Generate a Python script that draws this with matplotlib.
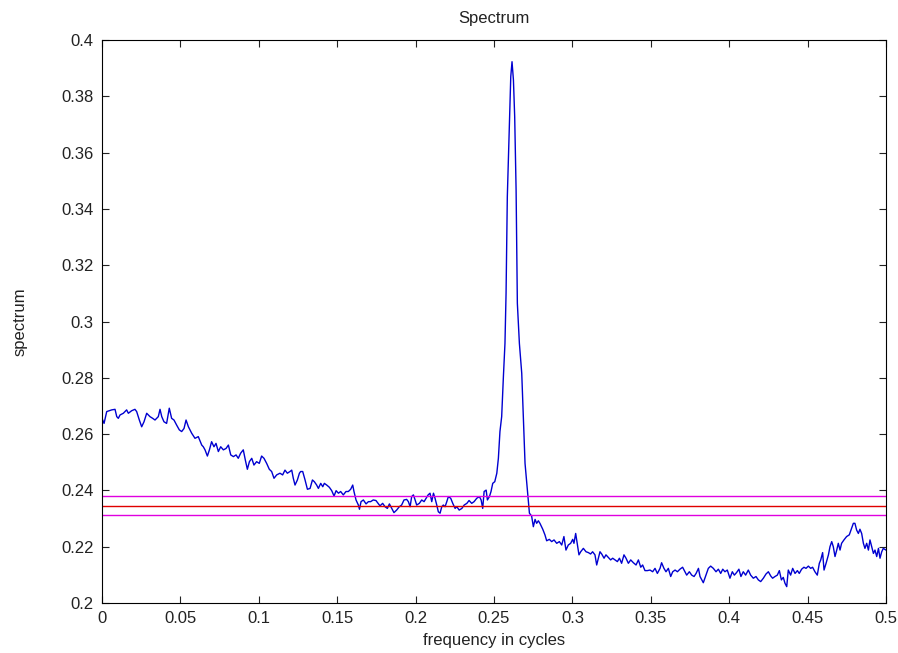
import matplotlib
matplotlib.use("Agg")
import matplotlib.pyplot as plt
from matplotlib.ticker import FormatStrFormatter

# spectrum estimate (frequency in cycles, value)
freq = [
    0.0000, 0.0013, 0.0030, 0.0062, 0.0083, 0.0094, 0.0104, 0.0115, 0.0136, 0.0157,
    0.0168, 0.0189, 0.0210, 0.0221, 0.0238, 0.0253, 0.0268, 0.0285, 0.0306, 0.0323,
    0.0338, 0.0359, 0.0370, 0.0381, 0.0395, 0.0412, 0.0429, 0.0444, 0.0459, 0.0476,
    0.0493, 0.0508, 0.0523, 0.0536, 0.0551, 0.0561, 0.0572, 0.0593, 0.0614, 0.0636,
    0.0646, 0.0657, 0.0672, 0.0685, 0.0699, 0.0714, 0.0727, 0.0742, 0.0757, 0.0774,
    0.0791, 0.0806, 0.0821, 0.0838, 0.0855, 0.0869, 0.0884, 0.0901, 0.0914, 0.0927,
    0.0940, 0.0955, 0.0969, 0.0986, 0.1003, 0.1018, 0.1033, 0.1050, 0.1067, 0.1082,
    0.1097, 0.1114, 0.1135, 0.1152, 0.1167, 0.1182, 0.1199,
    0.1210, 0.1220, 0.1231, 0.1246, 0.1259, 0.1267, 0.1280, 0.1295, 0.1310, 0.1327,
    0.1342, 0.1354, 0.1369, 0.1380, 0.1395, 0.1408, 0.1418, 0.1433, 0.1450, 0.1465,
    0.1480, 0.1493, 0.1508, 0.1522, 0.1539, 0.1556, 0.1571, 0.1586, 0.1599, 0.1607,
    0.1620, 0.1635, 0.1642, 0.1652, 0.1667, 0.1684, 0.1699, 0.1713, 0.1730, 0.1747,
    0.1763, 0.1773, 0.1790, 0.1805, 0.1820, 0.1833, 0.1848, 0.1862, 0.1879, 0.1896,
    0.1911, 0.1926, 0.1943, 0.1954, 0.1965, 0.1975, 0.1986, 0.1997, 0.2007, 0.2024,
    0.2039, 0.2054, 0.2067, 0.2080, 0.2092, 0.2103, 0.2114, 0.2124, 0.2135, 0.2145,
    0.2156, 0.2167, 0.2177, 0.2188, 0.2199, 0.2209, 0.2224, 0.2237, 0.2252, 0.2263,
    0.2278, 0.2295, 0.2310, 0.2327, 0.2341, 0.2358, 0.2373, 0.2390, 0.2407, 0.2418,
    0.2428, 0.2437, 0.2450, 0.2458, 0.2471, 0.2481, 0.2492, 0.2505, 0.2518,
    0.2528, 0.2538, 0.2549, 0.2560, 0.2570, 0.2577, 0.2585, 0.2598, 0.2607, 0.2615,
    0.2624, 0.2632, 0.2641, 0.2649, 0.2662, 0.2677, 0.2687, 0.2698, 0.2709,
    0.2726, 0.2740, 0.2751, 0.2762, 0.2772, 0.2783, 0.2793, 0.2811, 0.2825, 0.2836,
    0.2853, 0.2868, 0.2883, 0.2900, 0.2917, 0.2932, 0.2946, 0.2959, 0.2974, 0.2989,
    0.3002, 0.3010, 0.3021, 0.3032, 0.3042, 0.3053, 0.3070, 0.3087, 0.3102, 0.3116,
    0.3129, 0.3144, 0.3155, 0.3166, 0.3176, 0.3187, 0.3202, 0.3214, 0.3229, 0.3244,
    0.3257, 0.3272, 0.3287, 0.3300, 0.3314, 0.3329, 0.3342, 0.3357, 0.3372, 0.3389,
    0.3406, 0.3421, 0.3436, 0.3448, 0.3463, 0.3478, 0.3495, 0.3512, 0.3527, 0.3542,
    0.3559, 0.3569, 0.3584, 0.3597, 0.3612, 0.3627, 0.3640, 0.3655, 0.3670, 0.3686,
    0.3703, 0.3718, 0.3729, 0.3746, 0.3761, 0.3776, 0.3789, 0.3804,
    0.3814, 0.3835, 0.3852, 0.3867, 0.3882, 0.3899, 0.3916, 0.3931, 0.3946, 0.3959,
    0.3973, 0.3988, 0.4005, 0.4020, 0.4033, 0.4047, 0.4062, 0.4075, 0.4090, 0.4105,
    0.4122, 0.4137, 0.4154, 0.4171, 0.4186, 0.4201, 0.4218, 0.4235, 0.4250, 0.4265,
    0.4277, 0.4292, 0.4307, 0.4320, 0.4333, 0.4345, 0.4356, 0.4367, 0.4377, 0.4392,
    0.4405, 0.4420, 0.4435, 0.4447, 0.4462, 0.4477, 0.4490, 0.4505, 0.4520, 0.4532,
    0.4547, 0.4562, 0.4575, 0.4584, 0.4596, 0.4605, 0.4618, 0.4633, 0.4643, 0.4654,
    0.4664, 0.4675, 0.4686, 0.4696, 0.4707, 0.4717, 0.4732, 0.4749, 0.4766, 0.4781,
    0.4792, 0.4802, 0.4813, 0.4824, 0.4834, 0.4845, 0.4856, 0.4866, 0.4877, 0.4888,
    0.4898, 0.4909, 0.4920, 0.4930, 0.4941, 0.4952, 0.4962, 0.4973, 0.4983, 0.5000,
]
spec = [
    0.2656, 0.2638, 0.2680, 0.2686, 0.2688, 0.2662, 0.2656, 0.2668, 0.2674, 0.2686,
    0.2674, 0.2683, 0.2688, 0.2680, 0.2650, 0.2626, 0.2644, 0.2674, 0.2662, 0.2656,
    0.2650, 0.2662, 0.2688, 0.2662, 0.2644, 0.2638, 0.2692, 0.2656, 0.2650, 0.2632,
    0.2615, 0.2609, 0.2620, 0.2650, 0.2626, 0.2615, 0.2603, 0.2585, 0.2591, 0.2561,
    0.2555, 0.2544, 0.2522, 0.2544, 0.2573, 0.2555, 0.2567, 0.2538, 0.2555, 0.2544,
    0.2549, 0.2561, 0.2526, 0.2520, 0.2526, 0.2514, 0.2532, 0.2544, 0.2508, 0.2475,
    0.2502, 0.2514, 0.2490, 0.2502, 0.2496, 0.2522, 0.2514, 0.2496, 0.2475, 0.2467,
    0.2443, 0.2455, 0.2461, 0.2455, 0.2472, 0.2461, 0.2467,
    0.2472, 0.2443, 0.2419, 0.2437, 0.2461, 0.2467, 0.2467, 0.2437, 0.2404, 0.2407,
    0.2437, 0.2431, 0.2419, 0.2407, 0.2425, 0.2413, 0.2425, 0.2419, 0.2411, 0.2399,
    0.2380, 0.2399, 0.2390, 0.2396, 0.2384, 0.2396, 0.2396, 0.2404, 0.2419, 0.2396,
    0.2366, 0.2348, 0.2333, 0.2360, 0.2366, 0.2352, 0.2360, 0.2360, 0.2366, 0.2364,
    0.2352, 0.2345, 0.2354, 0.2342, 0.2336, 0.2352, 0.2336, 0.2321, 0.2330, 0.2342,
    0.2348, 0.2366, 0.2368, 0.2360, 0.2342, 0.2378, 0.2384, 0.2366, 0.2348, 0.2354,
    0.2366, 0.2360, 0.2372, 0.2384, 0.2390, 0.2360, 0.2390, 0.2372, 0.2348, 0.2324,
    0.2319, 0.2342, 0.2348, 0.2342, 0.2360, 0.2378, 0.2372, 0.2354, 0.2336, 0.2342,
    0.2330, 0.2336, 0.2348, 0.2354, 0.2364, 0.2354, 0.2360, 0.2372, 0.2378, 0.2366,
    0.2336, 0.2396, 0.2401, 0.2366, 0.2378, 0.2396, 0.2425, 0.2431, 0.2461,
    0.2514, 0.2609, 0.2662, 0.2804, 0.2922, 0.3100, 0.3443, 0.3698, 0.3870, 0.3923,
    0.3858, 0.3728, 0.3467, 0.3065, 0.2922, 0.2816, 0.2662, 0.2496, 0.2425,
    0.2319, 0.2309, 0.2271, 0.2297, 0.2283, 0.2292, 0.2283, 0.2262, 0.2242, 0.2221,
    0.2226, 0.2218, 0.2224, 0.2212, 0.2218, 0.2206, 0.2236, 0.2188, 0.2206, 0.2212,
    0.2226, 0.2212, 0.2247, 0.2206, 0.2171, 0.2182, 0.2194, 0.2182, 0.2179, 0.2174,
    0.2182, 0.2171, 0.2135, 0.2159, 0.2182, 0.2174, 0.2159, 0.2171, 0.2162, 0.2153,
    0.2159, 0.2153, 0.2147, 0.2159, 0.2141, 0.2171, 0.2159, 0.2141, 0.2153, 0.2143,
    0.2135, 0.2153, 0.2127, 0.2135, 0.2115, 0.2115, 0.2117, 0.2111, 0.2123, 0.2105,
    0.2123, 0.2143, 0.2123, 0.2111, 0.2123, 0.2094, 0.2111, 0.2117, 0.2111, 0.2120,
    0.2127, 0.2111, 0.2099, 0.2111, 0.2099, 0.2094, 0.2105, 0.2123,
    0.2094, 0.2072, 0.2099, 0.2123, 0.2131, 0.2123, 0.2111, 0.2120, 0.2105, 0.2120,
    0.2111, 0.2117, 0.2088, 0.2111, 0.2099, 0.2108, 0.2120, 0.2094, 0.2111, 0.2099,
    0.2117, 0.2099, 0.2088, 0.2094, 0.2082, 0.2076, 0.2088, 0.2103, 0.2111, 0.2096,
    0.2088, 0.2094, 0.2099, 0.2115, 0.2082, 0.2091, 0.2070, 0.2058, 0.2117, 0.2099,
    0.2123, 0.2105, 0.2115, 0.2105, 0.2120, 0.2127, 0.2123, 0.2131, 0.2123, 0.2127,
    0.2111, 0.2099, 0.2141, 0.2153, 0.2179, 0.2117, 0.2141, 0.2171, 0.2200, 0.2218,
    0.2200, 0.2165, 0.2188, 0.2212, 0.2188, 0.2212, 0.2224, 0.2236, 0.2242, 0.2265,
    0.2283, 0.2283, 0.2259, 0.2247, 0.2262, 0.2247, 0.2212, 0.2194, 0.2212, 0.2188,
    0.2224, 0.2200, 0.2176, 0.2188, 0.2165, 0.2194, 0.2159, 0.2182, 0.2194, 0.2188,
]

# threshold lines: mean level and its band
band_upper = 0.2380
band_mid = 0.2346
band_lower = 0.2314

x_ticks = [0, 0.05, 0.1, 0.15, 0.2, 0.25, 0.3, 0.35, 0.4, 0.45, 0.5]
y_ticks = [0.2, 0.22, 0.24, 0.26, 0.28, 0.3, 0.32, 0.34, 0.36, 0.38, 0.4]

plt.rcParams["font.family"] = ["Liberation Sans", "DejaVu Sans"]
plt.rcParams["font.size"] = 12

fig = plt.figure(figsize=(8.98, 6.53), dpi=100)
ax = fig.add_axes([0.1136, 0.0766, 0.8730, 0.8621])

ax.plot(freq, spec, color="#0000d0", linewidth=1.0)
ax.axhline(band_upper, color="#e000e0", linewidth=1.0)
ax.axhline(band_mid, color="#e00000", linewidth=1.0)
ax.axhline(band_lower, color="#e000e0", linewidth=1.0)

ax.set_xlim(0, 0.5)
ax.set_ylim(0.2, 0.4)
ax.set_xticks(x_ticks)
ax.set_yticks(y_ticks)
ax.xaxis.set_major_formatter(FormatStrFormatter("%g"))
ax.yaxis.set_major_formatter(FormatStrFormatter("%g"))
ax.tick_params(direction="in", length=5, width=0.8, top=True, right=True,
               labelsize=12, pad=6, colors="#222222")
for s in ax.spines.values():
    s.set_linewidth(0.8)

ax.set_title("Spectrum", fontsize=12, pad=12, color="#222222")
ax.set_xlabel("frequency in cycles", fontsize=12, labelpad=5, color="#222222")
ax.set_ylabel("spectrum", fontsize=12, labelpad=24, color="#222222")

fig.savefig("out.png", dpi=100)
